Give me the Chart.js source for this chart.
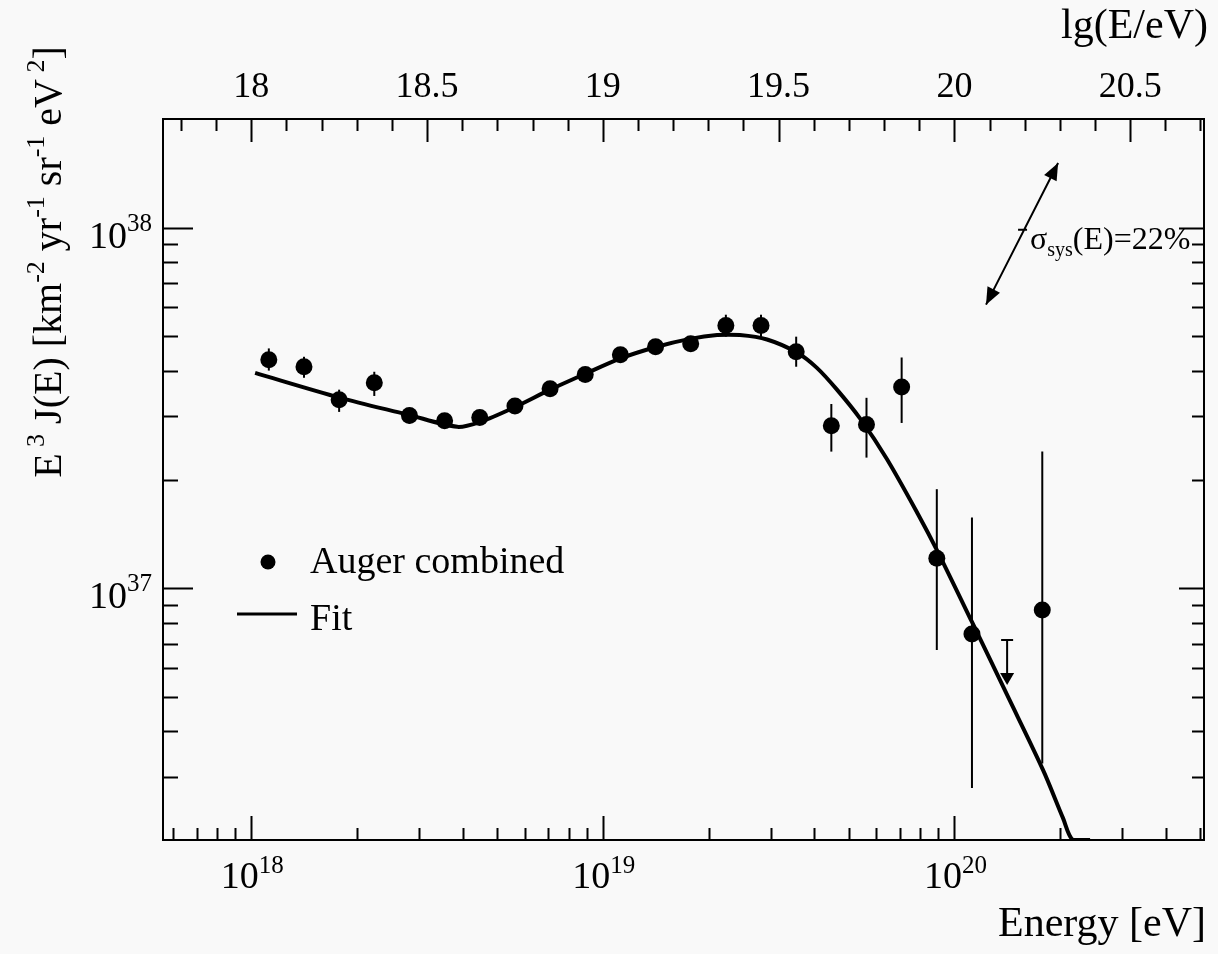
<!DOCTYPE html>
<html>
<head>
<meta charset="utf-8">
<title>Auger combined spectrum</title>
<script src="https://cdn.jsdelivr.net/npm/chart.js@4.4.1/dist/chart.umd.min.js"></script>
<style>
  html, body { margin: 0; padding: 0; background: #f9f9f9; }
  #wrap { position: relative; width: 1218px; height: 954px; }
</style>
</head>
<body>
<div id="wrap"><canvas id="chart-spectrum" width="1218" height="954"></canvas></div>
<script>
// bin centres in lg(E/eV)
const lgEnergy = [18.05, 18.15, 18.25, 18.35, 18.45, 18.55, 18.65, 18.75, 18.85, 18.95,
  19.05, 19.15, 19.25, 19.35, 19.45, 19.55, 19.65, 19.75, 19.85, 19.95, 20.05, 20.25];
// E^3 J(E) [km^-2 yr^-1 sr^-1 eV^2]
const flux = [4.30e37, 4.11e37, 3.33e37, 3.71e37, 3.01e37, 2.91e37, 2.97e37, 3.20e37, 3.57e37, 3.91e37,
  4.44e37, 4.67e37, 4.76e37, 5.35e37, 5.35e37, 4.52e37, 2.82e37, 2.84e37, 3.61e37, 1.21e37, 7.46e36, 8.69e36];
const fluxHigh = [4.62e37, 4.38e37, 3.55e37, 3.98e37, 3.16e37, 3.04e37, 3.10e37, 3.33e37, 3.71e37, 4.06e37,
  4.61e37, 4.89e37, 4.98e37, 5.73e37, 5.73e37, 4.98e37, 3.24e37, 3.37e37, 4.36e37, 1.88e37, 1.57e37, 2.39e37];
const fluxLow = [4.01e37, 3.83e37, 3.08e37, 3.41e37, 2.86e37, 2.78e37, 2.84e37, 3.08e37, 3.44e37, 3.76e37,
  4.28e37, 4.47e37, 4.55e37, 4.98e37, 4.98e37, 4.11e37, 2.39e37, 2.30e37, 2.87e37, 6.73e36, 2.79e36, 3.26e36];

// upper limit bin
const ulLgEnergy = [20.15];
const ulFlux = [7.18e36];
const ulArrowTip = [5.38e36];

// fit curve
const fitLgEnergy = [18.011, 18.253, 18.444, 18.586, 18.651, 18.745, 18.850, 18.950, 19.049, 19.154,
  19.248, 19.325, 19.390, 19.467, 19.552, 19.609, 19.666, 19.732, 19.808, 19.897, 19.951,
  20.050, 20.150, 20.252, 20.309, 20.337, 20.386];
const fitFlux = [3.95e37, 3.37e37, 3.03e37, 2.80e37, 2.89e37, 3.16e37, 3.55e37, 3.93e37, 4.33e37, 4.67e37,
  4.91e37, 5.03e37, 5.03e37, 4.89e37, 4.50e37, 4.08e37, 3.55e37, 2.95e37, 2.28e37, 1.60e37, 1.27e37,
  8.05e36, 5.05e36, 3.13e36, 2.30e36, 2.00e36, 2.00e36];

// systematic energy uncertainty arrow (lg E, flux)
const sysArrowLgE = [20.090, 20.295];
const sysArrowFlux = [6.11e37, 1.51e38];

// axis ranges and tick labels
const xRangeLg = [17.749, 20.71];
const yRange = [2e36, 2e38];
const xTickExponents = [18, 19, 20];
const yTickExponents = [37, 38];
const topTickLabels = ["18", "18.5", "19", "19.5", "20", "20.5"];

const FONT = '"Liberation Serif", "DejaVu Serif", serif';

function drawParts(ctx, parts, x, y, align) {
  // parts: [text, size, dy]
  let w = 0;
  parts.forEach((p) => {
    ctx.font = p[1] + "px " + FONT;
    w += ctx.measureText(p[0]).width;
  });
  let cx = align === "center" ? x - w / 2 : align === "right" ? x - w : x;
  ctx.textAlign = "left";
  ctx.textBaseline = "alphabetic";
  parts.forEach((p) => {
    ctx.font = p[1] + "px " + FONT;
    ctx.fillText(p[0], cx, y + (p[2] || 0));
    cx += ctx.measureText(p[0]).width;
  });
}

function arrowHead(ctx, x0, y0, x1, y1, len, half) {
  const a = Math.atan2(y1 - y0, x1 - x0);
  ctx.beginPath();
  ctx.moveTo(x1, y1);
  ctx.lineTo(x1 - len * Math.cos(a) + half * Math.sin(a), y1 - len * Math.sin(a) - half * Math.cos(a));
  ctx.lineTo(x1 - len * Math.cos(a) - half * Math.sin(a), y1 - len * Math.sin(a) + half * Math.cos(a));
  ctx.closePath();
  ctx.fill();
}

const errorBars = {
  id: "errorBars",
  beforeDatasetsDraw(chart) {
    const { ctx, scales: { x, y } } = chart;
    ctx.save();
    ctx.strokeStyle = "#000";
    ctx.fillStyle = "#000";
    ctx.lineWidth = 2;
    lgEnergy.forEach((lg, i) => {
      const px = x.getPixelForValue(Math.pow(10, lg));
      ctx.beginPath();
      ctx.moveTo(px, y.getPixelForValue(fluxHigh[i]));
      ctx.lineTo(px, y.getPixelForValue(fluxLow[i]));
      ctx.stroke();
    });
    // upper limit: cap + arrow
    ulLgEnergy.forEach((lg, i) => {
      const px = x.getPixelForValue(Math.pow(10, lg));
      const top = y.getPixelForValue(ulFlux[i]);
      const tip = y.getPixelForValue(ulArrowTip[i]);
      ctx.beginPath();
      ctx.moveTo(px - 6, top);
      ctx.lineTo(px + 6, top);
      ctx.moveTo(px, top);
      ctx.lineTo(px, tip - 10);
      ctx.stroke();
      ctx.beginPath();
      ctx.moveTo(px - 7, tip - 12);
      ctx.lineTo(px + 7, tip - 12);
      ctx.lineTo(px, tip);
      ctx.closePath();
      ctx.fill();
    });
    ctx.restore();
  },
};

const frameAndText = {
  id: "frameAndText",
  beforeDraw(chart) {
    const { ctx } = chart;
    ctx.save();
    ctx.fillStyle = "#f9f9f9";
    ctx.fillRect(0, 0, chart.width, chart.height);
    ctx.restore();
  },
  afterDraw(chart) {
    const { ctx, chartArea: a, scales: { x, y, xTop } } = chart;
    ctx.save();
    ctx.strokeStyle = "#000";
    ctx.fillStyle = "#000";
    ctx.lineWidth = 2;
    ctx.strokeRect(a.left, a.top, a.right - a.left, a.bottom - a.top);

    // bottom log ticks
    ctx.beginPath();
    for (let d = 17; d <= 20; d++) {
      for (let m = 1; m <= 9; m++) {
        const v = m * Math.pow(10, d);
        const lg = Math.log10(v);
        if (lg <= xRangeLg[0] || lg >= xRangeLg[1]) continue;
        const px = Math.round(x.getPixelForValue(v)) + 0.5;
        const len = m === 1 ? 24 : 12;
        ctx.moveTo(px, a.bottom);
        ctx.lineTo(px, a.bottom - len);
      }
    }
    // top linear ticks (every 0.1, major every 0.5)
    for (let k = 178; k <= 207; k++) {
      const v = k / 10;
      if (v <= xRangeLg[0] || v >= xRangeLg[1]) continue;
      const px = Math.round(xTop.getPixelForValue(v)) + 0.5;
      const len = k % 5 === 0 ? 23 : 12;
      ctx.moveTo(px, a.top);
      ctx.lineTo(px, a.top + len);
    }
    // left / right log ticks
    for (let d = 36; d <= 38; d++) {
      for (let m = 1; m <= 9; m++) {
        const v = m * Math.pow(10, d);
        if (v <= yRange[0] || v >= yRange[1]) continue;
        const py = Math.round(y.getPixelForValue(v)) + 0.5;
        ctx.moveTo(a.left, py);
        ctx.lineTo(a.left + (m === 1 ? 30 : 15), py);
        ctx.moveTo(a.right, py);
        ctx.lineTo(a.right - (m === 1 ? 25 : 12), py);
      }
    }
    ctx.stroke();

    // tick labels
    xTickExponents.forEach((e) => {
      const px = x.getPixelForValue(Math.pow(10, e));
      drawParts(ctx, [["10", 38, 0], [String(e), 25, -15]], px + 1, a.bottom + 48, "center");
    });
    yTickExponents.forEach((e) => {
      const py = y.getPixelForValue(Math.pow(10, e));
      drawParts(ctx, [["10", 38, 0], [String(e), 25, -17]], a.left - 11, py + 20, "right");
    });
    topTickLabels.forEach((t) => {
      const px = xTop.getPixelForValue(parseFloat(t));
      drawParts(ctx, [[t, 36, 0]], px, 97, "center");
    });

    // axis titles
    drawParts(ctx, [["Energy [eV]", 42, 0]], 1206, 936, "right");
    drawParts(ctx, [["lg(E/eV)", 42, 0]], 1208, 38, "right");
    ctx.save();
    ctx.translate(61, 262);
    ctx.rotate(-Math.PI / 2);
    drawParts(ctx, [
      ["E", 40, 0], [" 3", 26, -17], [" J(E) [km", 40, 0], ["-2", 26, -17],
      [" yr", 40, 0], ["-1", 26, -17], [" sr", 40, 0], ["-1", 26, -17],
      [" eV", 40, 0], [" 2", 26, -17], ["]", 40, 0],
    ], 0, 0, "center");
    ctx.restore();

    // legend
    ctx.beginPath();
    ctx.arc(268, 562, 7.5, 0, Math.PI * 2);
    ctx.fill();
    drawParts(ctx, [["Auger combined", 38, 0]], 310, 573, "left");
    ctx.lineWidth = 3;
    ctx.beginPath();
    ctx.moveTo(237, 614);
    ctx.lineTo(297, 614);
    ctx.stroke();
    drawParts(ctx, [["Fit", 38, 0]], 310, 630, "left");

    // systematic uncertainty arrow
    const x0 = x.getPixelForValue(Math.pow(10, sysArrowLgE[0]));
    const y0 = y.getPixelForValue(sysArrowFlux[0]);
    const x1 = x.getPixelForValue(Math.pow(10, sysArrowLgE[1]));
    const y1 = y.getPixelForValue(sysArrowFlux[1]);
    ctx.lineWidth = 2;
    ctx.beginPath();
    ctx.moveTo(x0, y0);
    ctx.lineTo(x1, y1);
    const mx = (x0 + x1) / 2, my = (y0 + y1) / 2 - 4;
    ctx.moveTo(mx - 4, my);
    ctx.lineTo(mx + 5, my);
    ctx.stroke();
    arrowHead(ctx, x0, y0, x1, y1, 17, 7);
    arrowHead(ctx, x1, y1, x0, y0, 17, 7);
    drawParts(ctx, [["\u03c3", 32, 0], ["sys", 20, 7], ["(E)=22%", 32, 0]], 1030, 249, "left");
    ctx.restore();
  },
};

const ctx = document.getElementById("chart-spectrum").getContext("2d");
new Chart(ctx, {
  type: "scatter",
  data: {
    datasets: [
      {
        label: "Auger combined",
        data: lgEnergy.map((lg, i) => ({ x: Math.pow(10, lg), y: flux[i] })),
        backgroundColor: "#000",
        borderColor: "#000",
        borderWidth: 0,
        pointRadius: 8.5,
        pointHoverRadius: 8.5,
      },
      {
        label: "Fit",
        type: "line",
        data: fitLgEnergy.map((lg, i) => ({ x: Math.pow(10, lg), y: fitFlux[i] })),
        borderColor: "#000",
        borderWidth: 4,
        pointRadius: 0,
        tension: 0.3,
        fill: false,
      },
    ],
  },
  options: {
    responsive: false,
    animation: false,
    devicePixelRatio: 1,
    layout: { padding: { left: 163, top: 119, right: 14, bottom: 114 } },
    plugins: { legend: { display: false }, tooltip: { enabled: false } },
    scales: {
      x: {
        type: "logarithmic",
        display: false,
        min: Math.pow(10, xRangeLg[0]),
        max: Math.pow(10, xRangeLg[1]),
      },
      xTop: {
        type: "linear",
        axis: "x",
        display: false,
        min: xRangeLg[0],
        max: xRangeLg[1],
      },
      y: {
        type: "logarithmic",
        display: false,
        min: yRange[0],
        max: yRange[1],
      },
    },
  },
  plugins: [errorBars, frameAndText],
});
</script>
</body>
</html>
